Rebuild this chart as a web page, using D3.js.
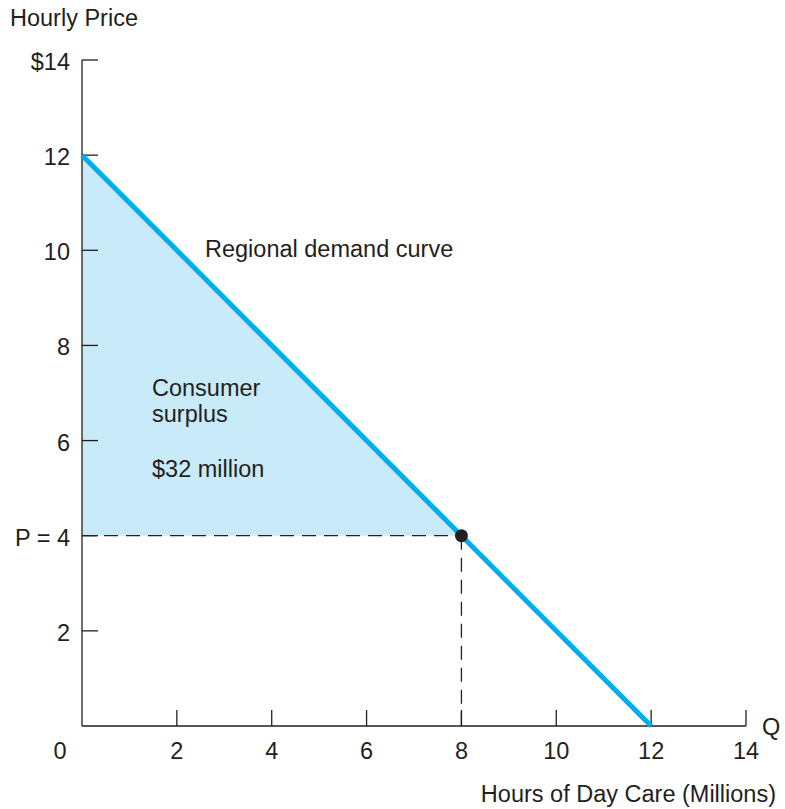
<!DOCTYPE html>
<html>
<head>
<meta charset="utf-8">
<script src="https://cdn.jsdelivr.net/npm/d3@7"></script>
<style>
  body { margin: 0; background: #fff; }
  text { font-family: "Liberation Sans", Arial, sans-serif; fill: #231f20; }
</style>
</head>
<body>
<div id="chart"></div>
<script>
// data
const xTicks = [2, 4, 6, 8, 10, 12, 14];
const yTicks = [2, 4, 6, 8, 10, 12, 14];
const yTickLabels = ["2", "P = 4", "6", "8", "10", "12", "$14"];
const demandQ = [0, 12];
const demandP = [12, 0];
const price = 4;
const quantity = 8;

const width = 785, height = 809;
const fs = 23.5;
const svg = d3.select("#chart").append("svg")
    .attr("width", width).attr("height", height);

const x = d3.scaleLinear().domain([0, 14]).range([82, 746]);
const y = d3.scaleLinear().domain([0, 14]).range([726, 60]);

// consumer surplus triangle
const surplus = [[0, demandP[0]], [quantity, price], [0, price]];
svg.append("path")
    .attr("d", d3.line().x(d => x(d[0])).y(d => y(d[1]))(surplus) + "Z")
    .attr("fill", "#c8eaf9");

// dashed guides
svg.append("line")
    .attr("x1", x(0)).attr("x2", x(quantity))
    .attr("y1", y(price)).attr("y2", y(price))
    .attr("stroke", "#231f20").attr("stroke-width", 1.3)
    .attr("stroke-dasharray", "14,8");
svg.append("line")
    .attr("x1", x(quantity)).attr("x2", x(quantity))
    .attr("y1", y(price)).attr("y2", y(0))
    .attr("stroke", "#231f20").attr("stroke-width", 1.3)
    .attr("stroke-dasharray", "14,8");

// axes
const axisColor = "#231f20";
svg.append("line").attr("x1", x(0)).attr("x2", x(0)).attr("y1", y(14)).attr("y2", y(0))
    .attr("stroke", axisColor).attr("stroke-width", 1.3);
svg.append("line").attr("x1", x(0)).attr("x2", x(14)).attr("y1", y(0)).attr("y2", y(0))
    .attr("stroke", axisColor).attr("stroke-width", 1.3);

svg.selectAll(".ytick").data(yTicks).join("line")
    .attr("x1", x(0)).attr("x2", x(0) + 16)
    .attr("y1", d => y(d)).attr("y2", d => y(d))
    .attr("stroke", axisColor).attr("stroke-width", 1.3);
svg.selectAll(".xtick").data(xTicks).join("line")
    .attr("x1", d => x(d)).attr("x2", d => x(d))
    .attr("y1", y(0)).attr("y2", y(0) - 16)
    .attr("stroke", axisColor).attr("stroke-width", 1.3);

svg.selectAll(".ylab").data(yTicks).join("text")
    .attr("x", 70).attr("y", d => y(d) + 10)
    .attr("text-anchor", "end").attr("font-size", fs)
    .text((d, i) => yTickLabels[i]);
svg.selectAll(".xlab").data(xTicks).join("text")
    .attr("x", d => x(d)).attr("y", 759)
    .attr("text-anchor", "middle").attr("font-size", fs)
    .text(d => d);
svg.append("text").attr("x", 60).attr("y", 759)
    .attr("text-anchor", "middle").attr("font-size", fs).text("0");

// demand curve
svg.append("line")
    .attr("x1", x(demandQ[0])).attr("y1", y(demandP[0]))
    .attr("x2", x(demandQ[1])).attr("y2", y(demandP[1]))
    .attr("stroke", "#00aeef").attr("stroke-width", 5);

// equilibrium point
svg.append("circle")
    .attr("cx", x(quantity)).attr("cy", y(price)).attr("r", 6.5)
    .attr("fill", "#231f20");

// labels
svg.append("text").attr("x", 10).attr("y", 26).attr("font-size", fs).text("Hourly Price");
svg.append("text").attr("x", 776).attr("y", 802).attr("text-anchor", "end")
    .attr("font-size", fs).text("Hours of Day Care (Millions)");
svg.append("text").attr("x", 762).attr("y", 735).attr("font-size", fs).text("Q");
svg.append("text").attr("x", 205).attr("y", 257).attr("font-size", fs).text("Regional demand curve");
svg.append("text").attr("x", 152).attr("y", 396).attr("font-size", fs).text("Consumer");
svg.append("text").attr("x", 152).attr("y", 422).attr("font-size", fs).text("surplus");
svg.append("text").attr("x", 152).attr("y", 477).attr("font-size", fs).text("$32 million");
</script>
</body>
</html>
